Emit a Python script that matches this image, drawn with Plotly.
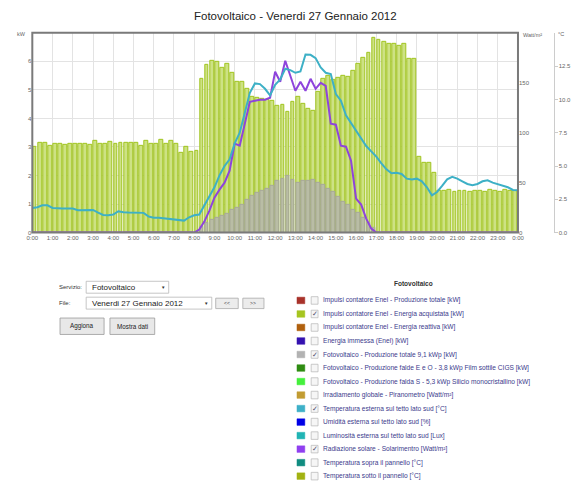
import plotly.graph_objects as go

# ---------------- data ----------------
hours = [i * 0.25 for i in range(97)]            # line sample times (h)
bar_x = [i * 0.25 + 0.125 for i in range(96)]    # 15-minute bar centres (h)
tick_vals = list(range(25))
tick_labels = [f"{h}:00" for h in range(24)] + ["0:00"]

# Impulsi contatore Enel - Energia acquistata [kW]
energia_acquistata = [
    3.0, 3.15, 3.15, 3.05, 3.12, 3.12, 3.08, 3.12, 3.1, 3.12, 3.12, 3.07, 3.2, 3.12, 3.12, 3.18,
    3.12, 3.15, 3.15, 3.15, 3.15, 3.05, 3.2, 3.12, 3.1, 3.25, 3.1, 3.2, 3.12, 2.8, 3.0, 2.82,
    2.88, 5.38, 5.87, 6.03, 5.97, 5.79, 5.93, 5.59, 5.3, 5.3, 5.03, 4.74, 4.72, 4.7, 4.66, 4.6,
    4.43, 4.48, 4.22, 4.57, 4.76, 4.52, 4.34, 4.28, 4.92, 5.38, 5.5, 5.35, 5.42, 5.5, 5.47, 5.68,
    5.93, 6.14, 6.29, 6.84, 6.74, 6.67, 6.61, 6.61, 6.53, 6.6, 6.1, 6.1, 2.65, 2.43, 2.43, 2.1,
    1.46, 1.48, 1.5, 1.42, 1.46, 1.46, 1.42, 1.48, 1.48, 1.42, 1.5, 1.46, 1.42, 1.5, 1.48, 1.46,
]
# Fotovoltaico - Produzione totale 9,1 kWp [kW]
produzione_totale = [0.0] * 33 + [
    0.2, 0.35, 0.45, 0.52, 0.58, 0.66, 0.78, 0.86, 0.98, 1.13, 1.28, 1.38, 1.45, 1.53, 1.65,
    1.8, 1.9, 2.0, 1.85, 1.75, 1.83, 1.8, 1.84, 1.75, 1.66, 1.55, 1.43, 1.26, 1.08, 0.97, 0.79,
    0.68, 0.51, 0.33, 0.17,
] + [0.0] * 28
# Temperatura esterna sul tetto lato sud [°C]
temperatura_esterna = [
    1.85, 1.9, 2.05, 2.05, 1.85, 1.8, 1.8, 1.8, 1.8, 1.68, 1.67, 1.67, 1.7, 1.5, 1.32, 1.3,
    1.35, 1.6, 1.52, 1.5, 1.48, 1.48, 1.48, 1.2, 1.12, 1.12, 1.08, 1.05, 1.0, 0.95, 0.9, 1.15,
    1.3, 1.35, 2.0, 2.7, 3.4, 4.3, 5.0, 5.5, 6.7, 7.5, 8.9, 10.5, 11.2, 11.15, 10.8, 10.3,
    11.1, 11.5, 12.3, 12.2, 12.0, 12.1, 13.37, 13.35, 13.1, 12.4, 12.0, 11.9, 10.4, 9.9, 8.8, 8.2,
    7.6, 7.05, 6.5, 6.1, 5.7, 5.2, 4.75, 4.45, 4.5, 4.4, 4.05, 3.98, 4.05, 3.85, 3.4, 2.8,
    3.05, 3.5, 4.0, 4.18, 4.05, 3.85, 3.65, 3.55, 3.65, 3.85, 3.93, 3.75, 3.65, 3.55, 3.4, 3.2,
    3.18,
]
# Radiazione solare - Solarimentro [Watt/m2]
radiazione_solare = [0.0] * 33 + [
    3, 11, 22, 35, 43, 50, 62, 89, 87, 110, 131, 132, 133, 133, 135, 161,
    151, 172, 156, 142, 151, 142, 154, 144, 150, 147, 109, 108, 87, 86, 72, 34,
    28, 14, 4, 0,
] + [0.0] * 28

legend_items = [
    ("Impulsi contatore Enel - Produzione totale [kW]", "#a8322a", False),
    ("Impulsi contatore Enel - Energia acquistata [kW]", "#a6c520", True),
    ("Impulsi contatore Enel - Energia reattiva [kW]", "#b0600e", False),
    ("Energia immessa (Enel) [kW]", "#3412b0", False),
    ("Fotovoltaico - Produzione totale 9,1 kWp [kW]", "#b2b2b2", True),
    ("Fotovoltaico - Produzione falde E e O - 3,8 kWp Film sottile CIGS [kW]", "#2f8c12", False),
    ("Fotovoltaico - Produzione falda S - 5,3 kWp Silicio monocristallino [kW]", "#44f03c", False),
    ("Irradiamento globale - Piranometro [Watt/m²]", "#c29c32", False),
    ("Temperatura esterna sul tetto lato sud [°C]", "#3eb0c8", True),
    ("Umidità esterna sul tetto lato sud [%]", "#0000e6", False),
    ("Luminosità esterna sul tetto lato sud [Lux]", "#20b4b4", False),
    ("Radiazione solare - Solarimentro [Watt/m²]", "#9040f0", True),
    ("Temperatura sopra il pannello [°C]", "#108c80", False),
    ("Temperatura sotto il pannello [°C]", "#a2b212", False),
]

# ---------------- geometry helpers ----------------
# the page body has an 8px margin, so the figure starts at (8, 8) in the window
OFF = 8
W, H = 576, 478
def px(x):
    return (x - OFF) / W
def py(y):
    return 1 - (y - OFF) / H

FONT = "Liberation Sans, Arial, sans-serif"
L, R, T, B = 26.7, 522.7, 33, 234

fig = go.Figure()
fig.add_bar(x=bar_x, y=energia_acquistata, width=0.19, yaxis="y",
            marker=dict(color="#cde284", line=dict(color="#a0c41e", width=1)))
fig.add_bar(x=bar_x, y=produzione_totale, width=0.19, yaxis="y",
            marker=dict(color="rgba(180,180,172,0.82)", line=dict(color="rgba(165,165,155,0.9)", width=1)))
fig.add_scatter(x=hours, y=temperatura_esterna, mode="lines", yaxis="y3",
                line=dict(color="#3db0c6", width=2))
fig.add_scatter(x=hours, y=radiazione_solare, mode="lines", yaxis="y2",
                line=dict(color="#8e44dc", width=2))

tick_font = dict(size=6, color="#666", family=FONT)

shapes = []
annotations = []

def rect(x0, y0, x1, y1, fill, line, lw=1):
    shapes.append(dict(type="rect", xref="paper", yref="paper",
                       x0=px(x0), x1=px(x1), y0=py(y1), y1=py(y0),
                       fillcolor=fill, line=dict(color=line, width=lw), layer="above"))

def text(x, y, s, size, color="#333", xanchor="left", bold=False):
    if bold:
        s = f"<b>{s}</b>"
    annotations.append(dict(x=px(x), y=py(y), xref="paper", yref="paper", text=s,
                            showarrow=False, xanchor=xanchor, yanchor="middle",
                            font=dict(size=size, color=color, family=FONT)))

# plot border
rect(L, T, R, B, "rgba(0,0,0,0)", "#7a7a7a", 2)

# axis unit labels and title
text(295, 16.5, "Fotovoltaico - Venerdi 27 Gennaio 2012", 11.5, "#222", "center")
text(15.5, 34, "kW", 5.5, "#666", "center")
text(538, 35, "Watt/m²", 5.5, "#666", "center")
text(566.5, 34, "°C", 5.5, "#666", "center")

# form controls
text(51.7, 289, "Servizio:", 6, "#333")
rect(81.7, 283, 166, 295, "#ffffff", "#b8b8b8", 0.8)
text(86, 289, "Fotovoltaico", 8, "#222")
text(160, 289.5, "▼", 4.5, "#333", "center")
text(51.7, 305, "File:", 6, "#333")
rect(81.7, 299, 210, 311, "#ffffff", "#b8b8b8", 0.8)
text(86, 305, "Venerdi 27 Gennaio 2012", 8, "#222")
text(204, 305.5, "▼", 4.5, "#333", "center")
rect(214, 300, 237, 310.5, "#ececec", "#a8a8a8", 0.8)
text(225.5, 305.3, "&lt;&lt;", 5, "#444", "center")
rect(241.7, 300, 263.3, 310.5, "#ececec", "#a8a8a8", 0.8)
text(252.5, 305.3, "&gt;&gt;", 5, "#444", "center")
rect(55, 320, 100, 336.5, "#e8e8e8", "#9a9a9a", 0.8)
text(77.5, 328.3, "Aggiona", 6.3, "#222", "center")
rect(106, 320, 151.7, 336.5, "#e8e8e8", "#9a9a9a", 0.8)
text(128.9, 328.3, "Mostra dati", 6.3, "#222", "center")

# series panel
text(416, 285.5, "Fotovoltaico", 6.5, "#333", "center", bold=True)
for i, (label, col, checked) in enumerate(legend_items):
    yc = 302.3 + 13.6 * i
    rect(297, yc - 3.3, 305, yc + 3.3, col, col, 0.5)
    rect(311.5, yc - 3.8, 318.5, yc + 3.8, "#f6f6f6", "#b5b5b5", 0.7)
    if checked:
        text(315, yc - 0.5, "✓", 7, "#4a4a6a", "center")
    text(321.3, yc, label, 6.6, "#3b3b8c")

fig.update_layout(
    width=W, height=H, autosize=False,
    margin=dict(l=0, r=0, t=0, b=0),
    paper_bgcolor="white", plot_bgcolor="white",
    barmode="overlay", bargap=0, showlegend=False,
    xaxis=dict(domain=[px(L), px(R)], range=[0, 24], tickvals=tick_vals, ticktext=tick_labels,
               showgrid=True, gridcolor="#e3e3e3", gridwidth=1, zeroline=False, showline=False,
               ticks="", tickfont=tick_font, fixedrange=True),
    yaxis=dict(domain=[py(B), py(T)], range=[0, 7], tickvals=list(range(7)),
               showgrid=True, gridcolor="#e3e3e3", gridwidth=1, zeroline=False, showline=False,
               ticks="", tickfont=tick_font),
    yaxis2=dict(overlaying="y", side="right", anchor="x", range=[0, 200],
                tickvals=[0, 50, 100, 150], showgrid=False, zeroline=False, showline=False,
                ticks="", tickfont=tick_font),
    yaxis3=dict(overlaying="y", side="right", anchor="free", position=px(559), range=[0, 15],
                tickvals=[0, 2.5, 5, 7.5, 10, 12.5],
                ticktext=["0.0", "2.5", "5.0", "7.5", "10.0", "12.5"],
                showgrid=False, zeroline=False, showline=True, linecolor="#cccccc", linewidth=1,
                ticks="outside", ticklen=3, tickcolor="#cccccc", tickfont=tick_font),
    shapes=shapes, annotations=annotations,
)

fig.write_html("out.html")
